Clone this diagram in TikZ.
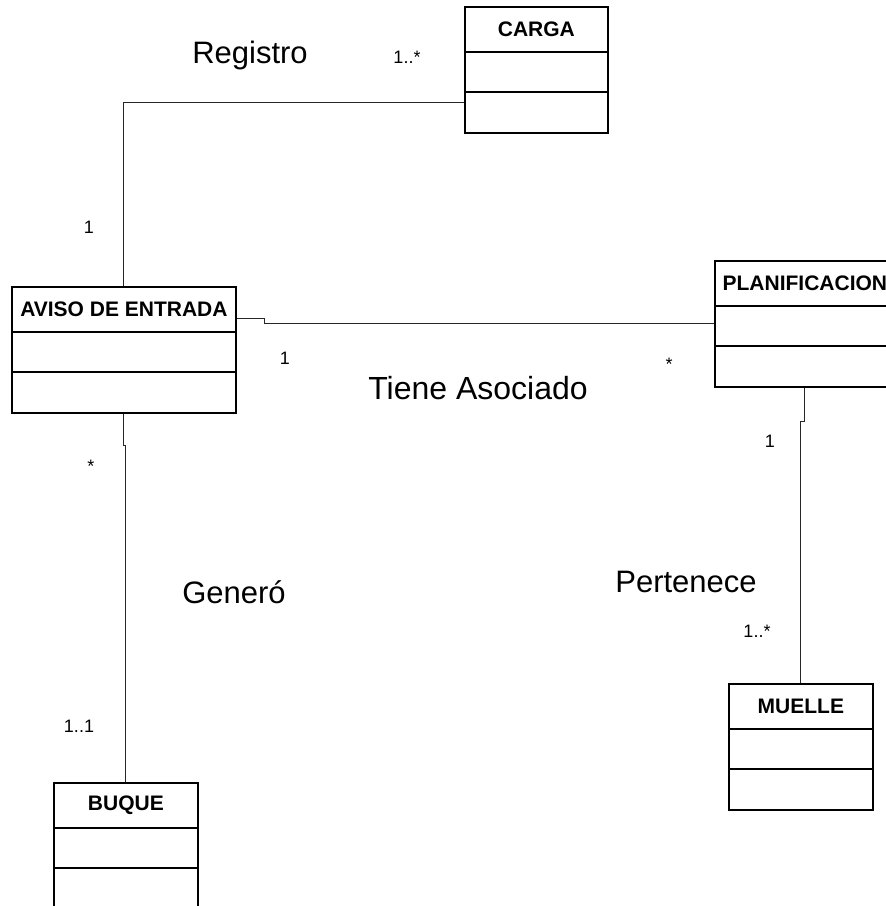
\documentclass[tikz,border=0pt]{standalone}
\usepackage{fontspec}
\setmainfont{Liberation Sans}
\begin{document}
\begin{tikzpicture}[x=1pt,y=-1pt,
  classframe/.style={draw=black, line width=1.8pt, inner sep=0pt, minimum height=126pt},
  divider/.style={draw=black, line width=1.8pt},
  classtitle/.style={inner sep=0pt, font=\fontsize{21}{25}\selectfont\bfseries},
  assoc/.style={draw=black!85, line width=1.1pt},
  rolename/.style={inner sep=0pt, anchor=base, font=\fontsize{31}{37}\selectfont},
  mult/.style={inner sep=0pt, anchor=base, font=\fontsize{18}{22}\selectfont}]
\useasboundingbox (0,0) rectangle (886,906);
\clip (0,0) rectangle (886,906);
\fill[white] (0,0) rectangle (886,906);

% class box: name, left, top, width, title
\newcommand{\umlclass}[5]{%
  \node[classframe, minimum width=#4pt, anchor=north west] (#1) at (#2,#3) {};
  \node[classtitle] (#1-title) at ([yshift=-23pt]#1.north) {#5};
  \draw[divider] ([yshift=-46pt]#1.north west) -- ([yshift=-46pt]#1.north east);
  \draw[divider] ([yshift=-86pt]#1.north west) -- ([yshift=-86pt]#1.north east);
}

\umlclass{carga}{464}{6}{143}{CARGA}
\umlclass{aviso}{11}{286}{224}{AVISO DE ENTRADA}
\umlclass{plan}{714}{260}{180}{PLANIFICACION}
\umlclass{muelle}{728}{683}{144}{MUELLE}
\umlclass{buque}{53}{782}{144}{BUQUE}

% associations
\draw[assoc] (aviso.north) |- ([yshift=-32.5pt]carga.west);
\draw[assoc] ([yshift=31.5pt]aviso.east) -- ++(28,0) |- (plan.west);
\draw[assoc] (aviso.south) -- ++(0,32) -| (buque.north);
\draw[assoc] (plan.south) -- ++(0,34) -| (muelle.north);

% association names
\node[rolename] (lblreg) at (250,63) {Registro};
\node[rolename, font=\fontsize{32}{38}\selectfont] (lbltiene) at (478,399) {Tiene Asociado};
\node[rolename] (lblgen) at (234,603) {Generó};
\node[rolename] (lblpert) at (686,592) {Pertenece};

% multiplicities
\node[mult] (m1) at (407,63) {1..*};
\node[mult] (m2) at (89,233) {1};
\node[mult] (m3) at (285,364) {1};
\node[mult] (m4) at (669,370) {*};
\node[mult] (m5) at (770,447) {1};
\node[mult] (m6) at (91,472) {*};
\node[mult] (m7) at (757,637) {1..*};
\node[mult] (m8) at (79,732) {1..1};
\end{tikzpicture}
\end{document}
